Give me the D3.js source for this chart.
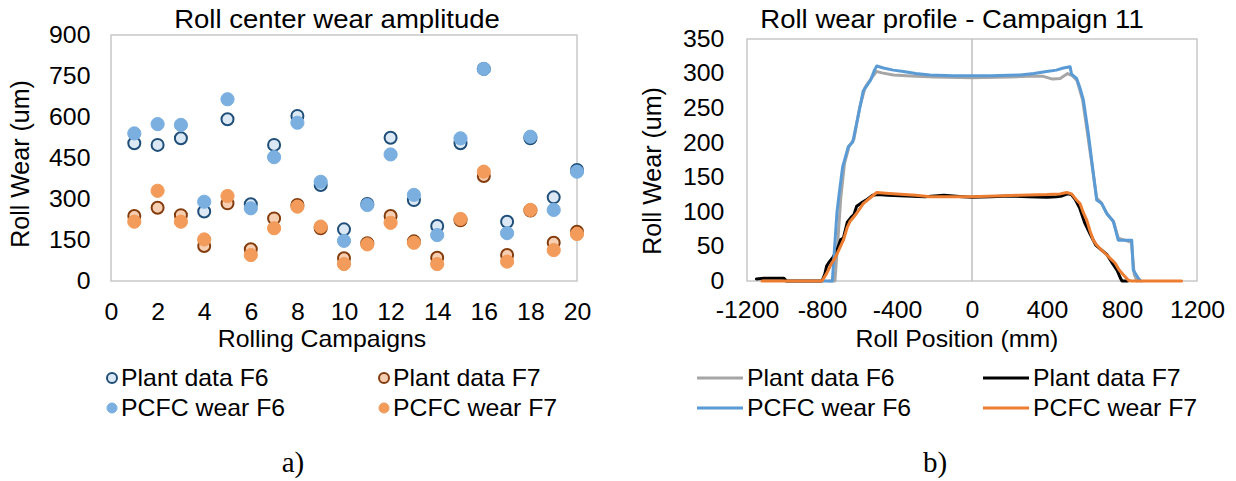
<!DOCTYPE html>
<html>
<head>
<meta charset="utf-8">
<script src="https://cdn.jsdelivr.net/npm/d3@7"></script>
<style>
  body { margin: 0; background: #fff; }
  svg { display: block; font-family: "Liberation Sans", Arial, sans-serif; }
</style>
</head>
<body>
<svg width="1236" height="481"></svg>
<script>
// ---- left chart data: roll center wear per campaign (um)
const campaigns = [1, 2, 3, 4, 5, 6, 7, 8, 9, 10, 11, 12, 13, 14, 15, 16, 17, 18, 19, 20];
const plantF6 = [504, 498, 522, 254, 592, 281, 498, 604, 351, 189, 282, 524, 296, 201, 504, 776, 217, 522, 306, 406];
const plantF7 = [238, 268, 241, 128, 284, 116, 229, 278, 193, 83, 138, 238, 145, 85, 222, 384, 95, 258, 140, 180];
const pcfcF6 = [540, 574, 571, 290, 665, 266, 453, 579, 363, 147, 278, 463, 315, 168, 522, 776, 175, 528, 260, 400];
const pcfcF7 = [217, 330, 217, 152, 311, 95, 193, 272, 199, 62, 134, 213, 140, 62, 227, 400, 71, 260, 113, 172];
const leftYTicks = [0, 150, 300, 450, 600, 750, 900];
const leftXTicks = [0, 2, 4, 6, 8, 10, 12, 14, 16, 18, 20];

// ---- right chart data: wear profile, campaign 11 ([position mm, wear um])
const profPlantF6 = [[-760,0],[-731,0],[-715,60],[-700,120],[-680,170],[-655,195],[-630,205],[-600,250],[-570,280],
  [-540,292],[-510,303],[-480,301],[-420,298],[-300,296],[-200,295],[0,294],[200,295],[300,296],[380,296],[430,292],
  [470,293],[510,300],[535,297],[560,290],[590,262],[615,215],[645,158],[665,120],[690,113],[720,97],[755,86],
  [780,62],[850,56],[865,10],[880,0]];
const profPlantF7 = [[-1150,3],[-1110,4],[-1003,4],[-990,0],[-800,0],[-785,10],[-775,22],[-760,28],[-740,35],[-720,45],
  [-700,60],[-686,62],[-665,85],[-645,92],[-630,96],[-615,108],[-590,113],[-560,118],[-530,124],[-500,125],[-450,124],
  [-350,123],[-250,122],[-150,124],[-50,122],[0,121],[100,122],[200,123],[300,122],[400,121],[450,122],[480,123],
  [510,126],[530,125],[550,118],[575,105],[600,85],[630,68],[660,52],[690,45],[720,38],[750,25],[775,15],[790,5],
  [800,0],[830,0]];
const profPcfcF6 = [[-795,0],[-745,0],[-735,40],[-720,100],[-708,127],[-690,165],[-660,194],[-636,201],[-610,235],
  [-580,275],[-560,283],[-540,291],[-520,305],[-508,311],[-473,308],[-420,305],[-366,303],[-300,300],[-224,298],
  [-100,297],[0,297],[100,297],[256,298],[330,300],[398,303],[450,305],[487,308],[523,310],[531,299],[558,293],
  [575,280],[594,262],[620,214],[647,156],[665,117],[692,112],[718,98],[754,86],[780,59],[852,59],[860,16],
  [887,4],[900,0]];
const profPcfcF7 = [[-1120,0],[-800,0],[-775,11],[-750,25],[-731,33],[-710,45],[-686,59],[-665,78],[-651,86],
  [-630,93],[-615,98],[-580,112],[-544,120],[-508,128],[-460,127],[-402,126],[-300,124],[-224,122],[0,122],
  [256,124],[400,125],[470,126],[505,128],[531,126],[555,118],[576,112],[595,98],[612,88],[630,72],[647,59],
  [665,52],[683,47],[718,38],[740,32],[763,26],[785,16],[807,9],[834,1],[850,0],[1118,0]];
const rightYTicks = [0, 50, 100, 150, 200, 250, 300, 350];
const rightXTicks = [-1200, -800, -400, 0, 400, 800, 1200];

const SX = 1.08; // text in the source image is a bit wider than plain Arial
const svg = d3.select("svg");

function label(x, y, txt, size, rot) {
  return svg.append("text")
    .attr("transform", `translate(${x},${y})` + (rot ? ` rotate(${rot})` : ` scale(${SX},1)`))
    .attr("text-anchor", "middle")
    .style("font-size", size + "px")
    .attr("fill", "#000")
    .text(txt);
}

function styleAxis(g) {
  g.attr("font-family", null).attr("font-size", null);
  g.select(".domain").remove();
  g.selectAll("text").style("font-size", "23px").attr("fill", "#000")
    .attr("transform", `scale(${SX},1)`);
}

const plain = d => String(d);

// ================= left chart =================
const xL = d3.scaleLinear().domain([0, 20]).range([111, 577]);
const yL = d3.scaleLinear().domain([0, 900]).range([281, 35]);

svg.append("rect").attr("x", 111).attr("y", 35).attr("width", 466).attr("height", 246)
  .attr("fill", "none").attr("stroke", "#c8c8c8").attr("stroke-width", 1.5);

svg.append("g").attr("transform", "translate(111,0)")
  .call(d3.axisLeft(yL).tickValues(leftYTicks).tickFormat(plain).tickSize(0).tickPadding(19))
  .call(styleAxis);
svg.append("g").attr("transform", "translate(0,281)")
  .call(d3.axisBottom(xL).tickValues(leftXTicks).tickFormat(plain).tickSize(0).tickPadding(23))
  .call(styleAxis);

const seriesL = [
  { name: "Plant data F6", vals: plantF6, fill: "#dce9f5", stroke: "#1f4e79", sw: 2, r: 6 },
  { name: "Plant data F7", vals: plantF7, fill: "#f6cfb3", stroke: "#843c0c", sw: 2, r: 6 },
  { name: "PCFC wear F6", vals: pcfcF6, fill: "#7aafe0", stroke: "#7aafe0", sw: 1, r: 6.6 },
  { name: "PCFC wear F7", vals: pcfcF7, fill: "#f29b5a", stroke: "#f29b5a", sw: 1, r: 6.6 }
];

seriesL.forEach(s => {
  svg.append("g").selectAll("circle")
    .data(campaigns.map((c, i) => [c, s.vals[i]]))
    .join("circle")
    .attr("cx", d => xL(d[0]))
    .attr("cy", d => yL(d[1]))
    .attr("r", s.r)
    .attr("fill", s.fill)
    .attr("stroke", s.stroke)
    .attr("stroke-width", s.sw);
});

label(337, 28, "Roll center wear amplitude", 25.5);
label(322, 347, "Rolling Campaigns", 23);
label(29, 164, "Roll Wear (um)", 25, -90);

const legL = [[112, 378], [384, 378], [112, 408], [384, 408]];
seriesL.forEach((s, i) => {
  const [lx, ly] = legL[i];
  svg.append("circle").attr("cx", lx).attr("cy", ly).attr("r", 5)
    .attr("fill", s.fill).attr("stroke", s.stroke).attr("stroke-width", s.sw);
  svg.append("text").attr("transform", `translate(${lx + 9},${ly + 8}) scale(${SX},1)`)
    .style("font-size", "23px").attr("fill", "#000").text(s.name);
});

svg.append("text").attr("x", 293).attr("y", 472).attr("text-anchor", "middle")
  .style("font-family", "'Liberation Serif', 'Times New Roman', serif")
  .style("font-size", "29px").text("a)");

// ================= right chart =================
const xR = d3.scaleLinear().domain([-1200, 1200]).range([747, 1197]);
const yR = d3.scaleLinear().domain([0, 350]).range([281, 39]);

svg.append("rect").attr("x", 747).attr("y", 39).attr("width", 450).attr("height", 242)
  .attr("fill", "none").attr("stroke", "#c8c8c8").attr("stroke-width", 1.5);
svg.append("line").attr("x1", xR(0)).attr("x2", xR(0)).attr("y1", 39).attr("y2", 281)
  .attr("stroke", "#bfbfbf").attr("stroke-width", 1.5);

svg.append("g").attr("transform", "translate(747,0)")
  .call(d3.axisLeft(yR).tickValues(rightYTicks).tickFormat(plain).tickSize(0).tickPadding(21))
  .call(styleAxis);
svg.append("g").attr("transform", "translate(0,281)")
  .call(d3.axisBottom(xR).tickValues(rightXTicks).tickFormat(plain).tickSize(0).tickPadding(21))
  .call(styleAxis);

const seriesR = [
  { name: "Plant data F6", pts: profPlantF6, color: "#a6a6a6" },
  { name: "Plant data F7", pts: profPlantF7, color: "#000000" },
  { name: "PCFC wear F6", pts: profPcfcF6, color: "#5b9bd5" },
  { name: "PCFC wear F7", pts: profPcfcF7, color: "#ed7d31" }
];

const line = d3.line().x(d => xR(d[0])).y(d => yR(d[1]));
seriesR.forEach(s => {
  svg.append("path").attr("d", line(s.pts))
    .attr("fill", "none").attr("stroke", s.color).attr("stroke-width", 3)
    .attr("stroke-linejoin", "round").attr("stroke-linecap", "round");
});

label(952, 28, "Roll wear profile - Campaign 11", 25.5);
label(957, 347, "Roll Position (mm)", 23);
label(661, 171, "Roll Wear (um)", 25, -90);

const legR = [[697, 378], [983, 378], [697, 408], [983, 408]];
seriesR.forEach((s, i) => {
  const [lx, ly] = legR[i];
  svg.append("line").attr("x1", lx).attr("x2", lx + 46).attr("y1", ly).attr("y2", ly)
    .attr("stroke", s.color).attr("stroke-width", 3);
  svg.append("text").attr("transform", `translate(${lx + 50},${ly + 8}) scale(${SX},1)`)
    .style("font-size", "23px").attr("fill", "#000").text(s.name);
});

svg.append("text").attr("x", 935).attr("y", 472).attr("text-anchor", "middle")
  .style("font-family", "'Liberation Serif', 'Times New Roman', serif")
  .style("font-size", "29px").text("b)");
</script>
</body>
</html>
